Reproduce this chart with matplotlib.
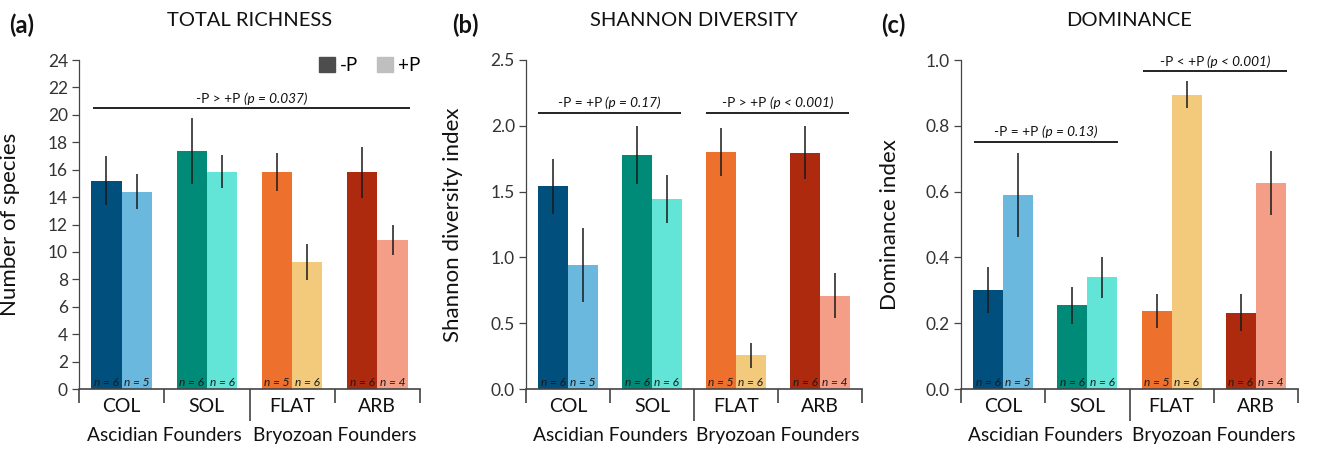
import matplotlib.pyplot as plt
import matplotlib.transforms as mtransforms
import numpy as np
from matplotlib.patches import Patch

plt.rcParams['font.family'] = ['Lato', 'DejaVu Sans']

groups = ['COL', 'SOL', 'FLAT', 'ARB']
founders = ['Ascidian Founders', 'Bryozoan Founders']
n_minus = [6, 6, 5, 6]
n_plus = [5, 6, 6, 4]

col_dark = ['#004f7c', '#008a78', '#ed702d', '#ae2a0e']
col_light = ['#6ab8de', '#62e4d7', '#f3c97c', '#f49e88']

# richness
rich_m = [15.2, 17.35, 15.85, 15.8]
rich_m_err = [1.8, 2.4, 1.4, 1.85]
rich_p = [14.4, 15.85, 9.25, 10.85]
rich_p_err = [1.3, 1.2, 1.3, 1.1]

# shannon
shan_m = [1.54, 1.775, 1.80, 1.795]
shan_m_err = [0.21, 0.22, 0.18, 0.20]
shan_p = [0.94, 1.445, 0.255, 0.71]
shan_p_err = [0.28, 0.18, 0.095, 0.17]

# dominance
dom_m = [0.30, 0.255, 0.238, 0.232]
dom_m_err = [0.07, 0.056, 0.052, 0.056]
dom_p = [0.589, 0.339, 0.895, 0.627]
dom_p_err = [0.127, 0.063, 0.042, 0.097]

# significance bars: (x0, x1, y_line, y_text, relation, p text)
sig_a = [(-0.335, 3.38, 20.5, 20.75, '-P > +P', '(p = 0.037)')]
sig_b = [(-0.36, 1.345, 2.1, 2.125, '-P = +P', '(p = 0.17)'),
         (1.64, 3.35, 2.1, 2.125, '-P > +P', '(p < 0.001)')]
sig_c = [(-0.34, 1.36, 0.752, 0.762, '-P = +P', '(p = 0.13)'),
         (1.666, 3.367, 0.966, 0.976, '-P < +P', '(p < 0.001)')]

fig = plt.figure(figsize=(13.19, 4.49), dpi=100)
W, H = 1319, 449
renderer = fig.canvas.get_renderer()


def sig_label(ax, xc, y, rel, pt):
    # plain relation followed by italic p-value, centred as one piece
    t1 = ax.text(xc, y, rel + ' ', ha='left', va='bottom', fontsize=9.8,
                 color='#111111')
    t2 = ax.text(xc, y, pt, ha='left', va='bottom', fontsize=9.8,
                 style='italic', color='#111111')
    w1 = t1.get_window_extent(renderer).width
    w2 = t2.get_window_extent(renderer).width
    tot = w1 + w2
    t1.set_transform(mtransforms.offset_copy(ax.transData, fig, x=-tot / 2,
                                             units='dots'))
    t2.set_transform(mtransforms.offset_copy(ax.transData, fig,
                                             x=-tot / 2 + w1, units='dots'))


def panel(left, right, letter, letter_x, title, ylabel, ylab_x,
          vm, vme, vp, vpe, ymax, yticks, fmt, sigs):
    ax = fig.add_axes([left / W, 1 - 389 / H, (right - left) / W, 329 / H])
    x = np.arange(len(groups))
    w = 0.355
    ax.bar(x - w / 2, vm, w, color=col_dark, edgecolor='none', zorder=2)
    ax.bar(x + w / 2, vp, w, color=col_light, edgecolor='none', zorder=2)
    ax.errorbar(x - w / 2, vm, yerr=vme, fmt='none', ecolor='#1a1a1a',
                elinewidth=1.1, capsize=0, zorder=3)
    ax.errorbar(x + w / 2, vp, yerr=vpe, fmt='none', ecolor='#1a1a1a',
                elinewidth=1.1, capsize=0, zorder=3)
    for i in range(len(groups)):
        ax.annotate('n = %d' % n_minus[i], (x[i] - w / 2, 0), xytext=(0, 1),
                    textcoords='offset points', ha='center', va='bottom',
                    fontsize=8.6, style='italic', color='#1a1a1a', zorder=4)
        ax.annotate('n = %d' % n_plus[i], (x[i] + w / 2, 0), xytext=(0, 1),
                    textcoords='offset points', ha='center', va='bottom',
                    fontsize=8.6, style='italic', color='#1a1a1a', zorder=4)
        ax.text(x[i], -0.052, groups[i], transform=ax.get_xaxis_transform(),
                ha='center', va='center', fontsize=14, color='#111111')
    for j, f in enumerate(founders):
        ax.text(0.5 + 2 * j, -0.14, f, transform=ax.get_xaxis_transform(),
                ha='center', va='center', fontsize=13.8, color='#111111')
    for x0, x1, yl, yt, rel, pt in sigs:
        ax.plot([x0, x1], [yl, yl], color='#111111', lw=1.3,
                solid_capstyle='butt', zorder=3)
        sig_label(ax, (x0 + x1) / 2, yt, rel, pt)

    ax.set_xlim(-0.5, 3.5)
    ax.set_ylim(0, ymax)
    ax.set_yticks(yticks)
    ax.set_yticklabels([fmt % t for t in yticks])
    ax.tick_params(axis='y', length=5, width=0.9, color='#444444',
                   labelsize=12.5, labelcolor='#333333', pad=3)
    ax.set_xticks([])
    ax.set_xticks([-0.5, 0.5, 1.5, 2.5, 3.5], minor=True)
    ax.tick_params(axis='x', which='minor', length=10, width=1.2,
                   color='#444444')
    ax.xaxis.get_minor_ticks()[2].tick1line.set_markersize(23)
    for s in ['top', 'right']:
        ax.spines[s].set_visible(False)
    ax.spines['left'].set_color('#444444')
    ax.spines['left'].set_linewidth(0.9)
    ax.spines['bottom'].set_color('#444444')
    ax.spines['bottom'].set_linewidth(1.2)

    ax.set_ylabel(ylabel, fontsize=16, color='#111111')
    ax.yaxis.set_label_coords(ylab_x, 0.5)
    fig.text((left + right) / 2 / W, 1 - 20 / H, title, ha='center',
             va='center', fontsize=14.5, color='#111111')
    fig.text(letter_x / W, 1 - 25 / H, letter, ha='left', va='center',
             fontsize=17, fontweight='bold', color='#111111')
    return ax


ax_a = panel(79, 420, '(a)', 9, 'TOTAL RICHNESS', 'Number of species', -0.172,
             rich_m, rich_m_err, rich_p, rich_p_err, 24,
             list(range(0, 25, 2)), '%d', sig_a)
ax_b = panel(526, 862, '(b)', 452, 'SHANNON DIVERSITY',
             'Shannon diversity index', -0.188,
             shan_m, shan_m_err, shan_p, shan_p_err, 2.5,
             [0, 0.5, 1.0, 1.5, 2.0, 2.5], '%.1f', sig_b)
ax_c = panel(961, 1298, '(c)', 881, 'DOMINANCE', 'Dominance index', -0.18,
             dom_m, dom_m_err, dom_p, dom_p_err, 1.0,
             [0, 0.2, 0.4, 0.6, 0.8, 1.0], '%.1f', sig_c)

handles = [Patch(color='#4d4d4d', label='-P'), Patch(color='#bfbfbf', label='+P')]
ax_a.legend(handles=handles, ncol=2, frameon=False, loc='upper right',
            bbox_to_anchor=(1.0, 1.01), borderaxespad=0, borderpad=0,
            fontsize=13.5, handlelength=0.85, handleheight=0.85,
            handletextpad=0.25, columnspacing=1.0)

fig.savefig('out.png', dpi=100)
